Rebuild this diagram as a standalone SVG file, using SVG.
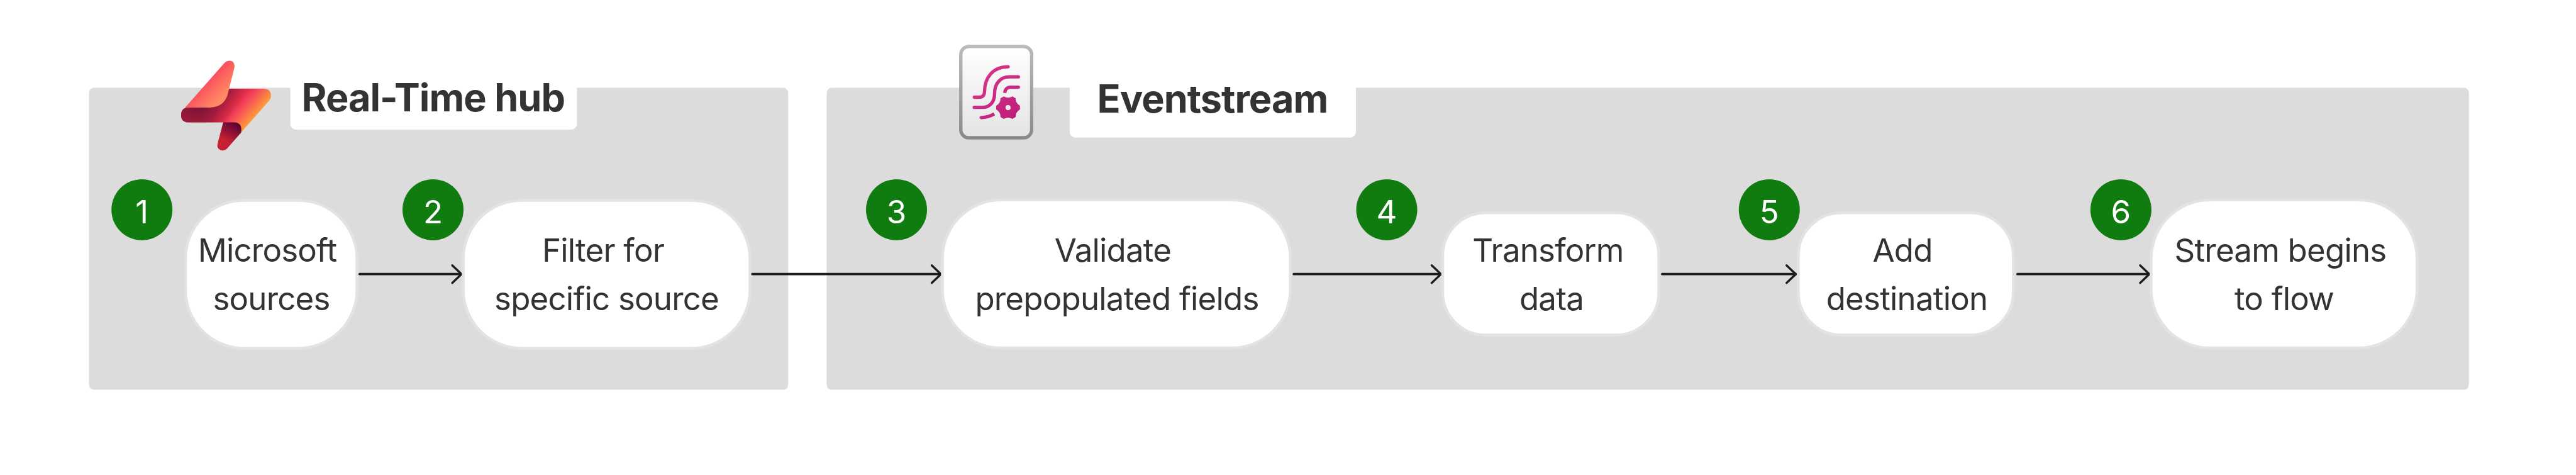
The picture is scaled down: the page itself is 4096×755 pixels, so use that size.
<svg xmlns="http://www.w3.org/2000/svg" width="4096" height="755" viewBox="0 0 4096 755">
<style>
.panel{fill:#dcdcdc}
.tab{fill:#fff}
.title{font-family:Inter,"Liberation Sans",sans-serif;font-weight:700;font-size:61.2px;letter-spacing:-1px;fill:#333}
.node{fill:#fff;stroke:#e3e3e3;stroke-width:4.5}
.label{font-family:Inter,"Liberation Sans",sans-serif;font-size:51px;letter-spacing:-.8px;fill:#333;text-anchor:middle}
.badge{fill:#107c10}
.num{font-family:Inter,"Liberation Sans",sans-serif;font-size:51px;fill:#fff;text-anchor:middle}
.conn{fill:none;stroke:#1c1c1c;stroke-width:3.8;stroke-linecap:round;marker-end:url(#arrow)}
.wave{fill:none;stroke:url(#pink);stroke-width:25;stroke-linecap:round}
</style>
<defs>
<marker id="arrow" markerUnits="userSpaceOnUse" viewBox="-18 -17 21 34" markerWidth="21" markerHeight="34" refX="0" refY="0" orient="auto">
<path d="M-14.7,-14 L0,0 L-14.7,14" fill="none" stroke="#1c1c1c" stroke-width="3.4" stroke-linecap="round" stroke-linejoin="round"/>
</marker>
<linearGradient id="ribbon" gradientUnits="userSpaceOnUse" x1="160" y1="500" x2="489" y2="781">
<stop offset="0" stop-color="#b01e3a"/><stop offset=".59" stop-color="#e6304a"/><stop offset=".68" stop-color="#f43f5a"/><stop offset="1" stop-color="#ffa03a"/>
</linearGradient>
<radialGradient id="shade1" gradientUnits="userSpaceOnUse" cx="290" cy="430" r="150">
<stop offset="0" stop-color="#560a35" stop-opacity=".9"/><stop offset="1" stop-color="#560a35" stop-opacity="0"/>
</radialGradient>
<linearGradient id="shade2" gradientUnits="userSpaceOnUse" x1="505" y1="340" x2="600" y2="400">
<stop offset="0" stop-color="#8a1435" stop-opacity=".6"/><stop offset="1" stop-color="#8a1435" stop-opacity="0"/>
</linearGradient>
<linearGradient id="wing" gradientUnits="userSpaceOnUse" x1="270" y1="270" x2="420" y2="420">
<stop offset="0" stop-color="#f9405a"/><stop offset="1" stop-color="#ff8c64"/>
</linearGradient>
<linearGradient id="tail" gradientUnits="userSpaceOnUse" x1="560" y1="565" x2="490" y2="690">
<stop offset="0" stop-color="#5a0535"/><stop offset="1" stop-color="#c52033"/>
</linearGradient>
<linearGradient id="frame" x1="0" y1="0" x2="0" y2="1"><stop offset="0" stop-color="#bababa"/><stop offset="1" stop-color="#8a8a8a"/></linearGradient>
<linearGradient id="paper" x1="0" y1="0" x2="0" y2="1"><stop offset="0" stop-color="#fff"/><stop offset="1" stop-color="#e4e4e4"/></linearGradient>
<linearGradient id="pink" gradientUnits="userSpaceOnUse" x1="200" y1="230" x2="550" y2="620"><stop offset="0" stop-color="#dc3a8c"/><stop offset="1" stop-color="#bc1c78"/></linearGradient>
</defs>

<g id="panel-realtime">
<rect class="panel" x="141.5" y="139.6" width="1111.8" height="480" rx="8"/>
<path class="tab" d="M461.6,139 H917.4 V197 a9,9 0 0 1 -9,9 H470.6 a9,9 0 0 1 -9,-9 Z"/>
<text class="title" x="479.5" y="176.6">Real-Time hub</text>
<g id="icon-realtime" transform="translate(255,76.5) scale(.2125)">
<path fill="url(#ribbon)" d="M515,303 L775,303 Q828,305 828,358 Q828,378 815,392 L600,635 L470,555 L205,555 Q155,553 155,500 Q155,445 210,443 L375,443 Z"/>
<path fill="url(#shade1)" d="M515,303 L775,303 Q828,305 828,358 Q828,378 815,392 L600,635 L470,555 L205,555 Q155,553 155,500 Q155,445 210,443 L375,443 Z"/>
<path fill="url(#shade2)" d="M515,303 L775,303 Q828,305 828,358 Q828,378 815,392 L600,635 L470,555 L205,555 Q155,553 155,500 Q155,445 210,443 L375,443 Z"/>
<path fill="url(#tail)" d="M470,555 L428,715 Q420,745 445,760 Q475,775 500,750 L604,632 L606,610 Q606,558 555,555 Z"/>
<path fill="url(#wing)" d="M482,108 Q510,85 540,100 Q560,118 553,150 L505,340 Q480,440 375,443 L205,443 Q190,445 180,450 Z"/>
</g>
</g>

<g id="panel-eventstream">
<rect class="panel" x="1314.5" y="139.6" width="2611.2" height="480" rx="8"/>
<path class="tab" d="M1700.9,139 H2156 V209.7 a9,9 0 0 1 -9,9 H1709.9 a9,9 0 0 1 -9,-9 Z"/>
<text class="title" x="1744.5" y="179.1">Eventstream</text>
<g id="icon-eventstream" transform="translate(1504.5,57.4) scale(.2125)">
<rect x="109.5" y="77.5" width="530" height="683" rx="60" fill="url(#paper)" stroke="url(#frame)" stroke-width="25"/>
<path class="wave" d="M211,457 H250 C275,457 287,440 287,415 C287,310 350,229 463,229"/>
<path class="wave" d="M210,533 H270 C330,533 362,490 362,430 C362,350 410,305 470,305 H540"/>
<path class="wave" style="stroke-linecap:butt" d="M438,425 C440,400 455,382 480,382 H540"/>
<circle cx="540" cy="382" r="12.5" fill="#cf2f85"/>
<path class="wave" style="stroke-linecap:butt" d="M262,609 C300,609 330,600 360,582"/>
<circle cx="262" cy="609" r="12.5" fill="#cf2f85"/>
<path fill="url(#pink)" fill-rule="evenodd" d="M551.9,520.9 L551.9,549.1 Q519.3,567.5 519.6,604.9 L495.3,619 Q463,600 430.7,619 L406.4,604.9 Q406.7,567.5 374.1,549.1 L374.1,520.9 Q406.7,502.5 406.4,465.1 L430.7,451 Q463,470 495.3,451 L519.6,465.1 Q519.3,502.5 551.9,520.9 Z M482,535 a19,19 0 1 0 -38,0 a19,19 0 1 0 38,0 Z"/>
</g>
</g>

<g id="connectors">
<path class="conn" d="M571.8,435.7 H733.8"/>
<path class="conn" d="M1195.3,435.7 H1496.2"/>
<path class="conn" d="M2057.2,435.7 H2291.2"/>
<path class="conn" d="M2643,435.7 H2855.4"/>
<path class="conn" d="M3207.9,435.7 H3417.6"/>
</g>

<g id="node-1">
<rect class="node" x="294.9" y="318.45" width="272.8" height="235.2" rx="93"/>
<text class="label" x="425" y="416.3">Microsoft</text>
<text class="label" x="431.5" y="492.8">sources</text>
<circle class="badge" cx="225.7" cy="333.4" r="48.5"/>
<text class="num" x="225.7" y="354.5">1</text>
</g>
<g id="node-2">
<rect class="node" x="736.65" y="318.45" width="455.8" height="235.2" rx="93"/>
<text class="label" x="959" y="416.3">Filter for</text>
<text class="label" x="964.5" y="492.8">specific source</text>
<circle class="badge" cx="688.5" cy="333.4" r="48.5"/>
<text class="num" x="688.5" y="354.5">2</text>
</g>
<g id="node-3">
<rect class="node" x="1498.5" y="317.8" width="553.3" height="235.2" rx="93"/>
<text class="label" x="1769.5" y="416.3">Validate</text>
<text class="label" x="1776" y="492.8">prepopulated fields</text>
<circle class="badge" cx="1425.5" cy="333.4" r="48.5"/>
<text class="num" x="1425.5" y="354.5">3</text>
</g>
<g id="node-4">
<rect class="node" x="2294" y="338.2" width="343.6" height="194.4" rx="68"/>
<text class="label" x="2461.5" y="416.3">Transform</text>
<text class="label" x="2467" y="492.8">data</text>
<circle class="badge" cx="2205" cy="333.4" r="48.5"/>
<text class="num" x="2205" y="354.5">4</text>
</g>
<g id="node-5">
<rect class="node" x="2859.5" y="338.2" width="341.7" height="194.4" rx="68"/>
<text class="label" x="3025" y="416.3">Add</text>
<text class="label" x="3032" y="492.8">destination</text>
<circle class="badge" cx="2813.3" cy="333.4" r="48.5"/>
<text class="num" x="2813.3" y="354.5">5</text>
</g>
<g id="node-6">
<rect class="node" x="3420.5" y="317.8" width="422.6" height="235.2" rx="93"/>
<text class="label" x="3626" y="416.3">Stream begins</text>
<text class="label" x="3632" y="492.8">to flow</text>
<circle class="badge" cx="3372.4" cy="333.4" r="48.5"/>
<text class="num" x="3372.4" y="354.5">6</text>
</g>
</svg>
